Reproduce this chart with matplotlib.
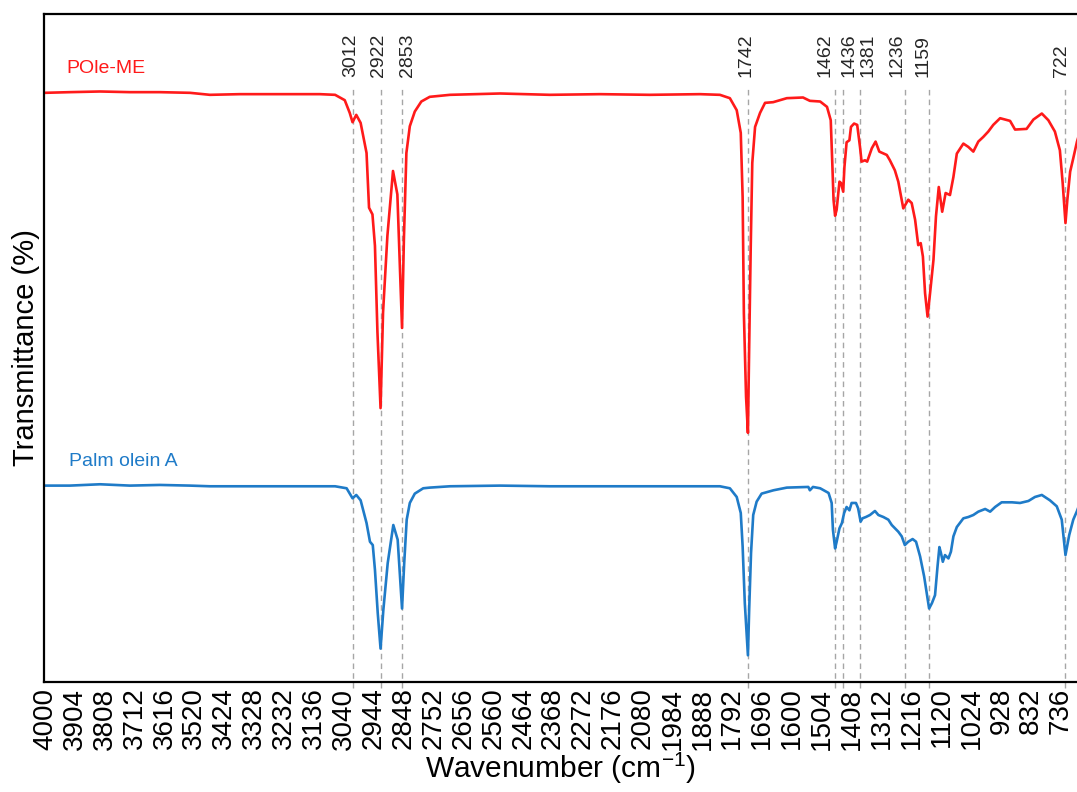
"""FTIR spectra of POle-ME and palm olein A with marked absorption bands."""
import matplotlib
matplotlib.use("Agg")
import matplotlib.pyplot as plt
import numpy as np

plt.rcParams["font.family"] = ["Liberation Sans", "DejaVu Sans"]
plt.rcParams["mathtext.default"] = "regular"

# POle-ME spectrum (wavenumber cm-1, transmittance a.u.)
pole_me_wn = [
    4000, 3920, 3823, 3727, 3631, 3534, 3470, 3374, 3245, 3117, 3068,
    3037, 3021, 3012, 3000, 2986, 2967, 2959, 2948, 2940, 2932, 2922,
    2914, 2900, 2882, 2868, 2853, 2847, 2839, 2828, 2812, 2791, 2764,
    2699, 2538, 2378, 2217, 2057, 1896, 1832, 1800, 1778, 1765, 1759,
    1755, 1748, 1742, 1738, 1733, 1728, 1719, 1703, 1687, 1661, 1617,
    1565, 1543, 1510, 1488, 1476, 1471, 1467, 1462, 1457, 1448, 1443,
    1436, 1432, 1425, 1416, 1411, 1401, 1391, 1382, 1377, 1366, 1359,
    1344, 1332, 1320, 1296, 1286, 1270, 1259, 1243, 1227, 1216, 1205,
    1195, 1187, 1180, 1173, 1165, 1157, 1146, 1138, 1129, 1118, 1107,
    1093, 1082, 1071, 1050, 1034, 1018, 1002, 986, 970, 954, 932,
    900, 884, 847, 825, 798, 777, 756, 740, 731, 722, 716,
    707, 697, 685, 678,
]
pole_me_t = [
    88.2, 88.3, 88.4, 88.3, 88.3, 88.2, 87.9, 88.0, 88.0, 88.0, 87.9,
    87.1, 85.2, 83.8, 84.9, 83.7, 79.2, 71.0, 70.0, 65.3, 52.4, 41.0,
    55.3, 66.8, 76.5, 73.0, 53.0, 66.3, 79.2, 83.2, 85.4, 86.9, 87.6,
    87.9, 88.1, 87.9, 88.0, 87.9, 88.0, 87.9, 87.4, 85.6, 82.2, 72.6,
    55.2, 42.7, 37.3, 50.1, 65.1, 77.7, 83.1, 85.2, 86.7, 86.8, 87.4,
    87.5, 87.0, 86.9, 86.1, 84.1, 77.7, 72.2, 69.8, 70.7, 74.9, 74.7,
    73.4, 77.1, 80.8, 81.1, 83.1, 83.6, 83.4, 80.1, 77.9, 78.1, 77.9,
    79.9, 80.9, 79.4, 78.9, 78.1, 76.6, 74.9, 70.9, 72.2, 71.7, 69.2,
    65.4, 65.7, 63.7, 58.2, 54.7, 58.2, 63.2, 69.7, 74.1, 70.4, 73.2,
    72.9, 75.6, 79.1, 80.6, 80.1, 79.4, 80.9, 81.6, 82.4, 83.4, 84.4,
    84.0, 82.7, 82.8, 84.2, 85.1, 84.1, 82.4, 79.6, 74.7, 68.7, 72.2,
    76.4, 78.4, 80.9, 82.0,
]

# Palm olein A spectrum
palm_olein_wn = [
    4000, 3920, 3823, 3727, 3631, 3534, 3470, 3374, 3245, 3117, 3068,
    3031, 3012, 3000, 2986, 2967, 2956, 2947, 2940, 2931, 2922, 2913,
    2899, 2881, 2867, 2853, 2846, 2838, 2828, 2812, 2785, 2764, 2699,
    2538, 2378, 2217, 2057, 1896, 1832, 1800, 1778, 1765, 1759, 1752,
    1742, 1738, 1732, 1725, 1714, 1698, 1660, 1617, 1548, 1543, 1533,
    1510, 1483, 1473, 1469, 1462, 1457, 1448, 1440, 1433, 1425, 1416,
    1409, 1395, 1388, 1380, 1374, 1363, 1350, 1334, 1323, 1307, 1291,
    1280, 1259, 1248, 1238, 1227, 1213, 1202, 1189, 1176, 1160, 1151,
    1141, 1133, 1127, 1122, 1116, 1109, 1098, 1090, 1082, 1071, 1050,
    1034, 1018, 1002, 980, 964, 948, 927, 894, 868, 841, 820,
    798, 772, 750, 734, 722, 710, 697, 685, 678,
]
palm_olein_t = [
    29.4, 29.4, 29.6, 29.4, 29.5, 29.4, 29.3, 29.3, 29.3, 29.3, 29.3,
    29.0, 27.5, 28.0, 27.2, 23.8, 21.0, 20.5, 16.8, 10.3, 5.0, 10.8,
    17.8, 23.5, 21.3, 11.0, 17.8, 24.3, 26.8, 28.2, 29.0, 29.1, 29.3,
    29.4, 29.3, 29.3, 29.3, 29.3, 29.3, 29.0, 27.7, 25.3, 20.3, 11.8,
    4.0, 10.8, 19.3, 25.0, 27.0, 28.2, 28.7, 29.1, 29.2, 28.7, 29.2,
    29.0, 28.3, 26.8, 22.8, 20.0, 21.0, 23.0, 23.8, 25.3, 26.2, 25.7,
    26.8, 26.8, 26.0, 24.0, 24.5, 24.7, 25.0, 25.6, 25.0, 24.7, 24.3,
    23.5, 22.5, 21.8, 20.5, 21.0, 21.4, 21.0, 18.8, 15.8, 11.0, 11.8,
    13.0, 17.3, 20.2, 19.3, 18.0, 19.0, 18.5, 19.5, 21.8, 23.2, 24.5,
    24.7, 25.0, 25.5, 25.9, 25.5, 26.2, 26.9, 26.9, 26.8, 27.1, 27.7,
    28.0, 27.2, 26.3, 24.3, 19.0, 22.0, 24.3, 25.6, 26.5,
]

band_positions = [3012, 2922, 2853, 1742, 1462, 1436, 1381, 1236, 1159, 722]
tick_positions = list(range(4000, 700, -96))

RED = "#ff1a1a"
BLUE = "#1f7bc8"

fig = plt.figure(figsize=(10.77, 7.92), dpi=100)
ax = fig.add_axes([44 / 1077, 1 - 682 / 792, 1 - 44 / 1077, 668 / 792])

ax.plot(pole_me_wn, pole_me_t, color=RED, lw=1.9, solid_joinstyle="round")
ax.plot(palm_olein_wn, palm_olein_t, color=BLUE, lw=1.9, solid_joinstyle="round")

ax.set_xlim(4003, 685)
ax.set_ylim(0, 100)

# labels were nudged sideways by hand in the original so close ones don't collide
label_nudge = {3012: -2, 2922: -2, 2853: 5, 1742: -2, 1462: -10,
               1436: 6, 1381: 8, 1236: -8, 1159: -6, 722: -4}

# dashed band markers, running a little past the bottom spine
for wn in band_positions:
    ax.plot([wn, wn], [-0.9, 88.9], color="#a6a6a6", lw=1.0,
            ls=(0, (4, 3)), clip_on=False, zorder=1)
    ax.annotate(str(wn), xy=(wn, 90.5), xytext=(label_nudge[wn], 0),
                textcoords="offset pixels", rotation=90, ha="center",
                va="bottom", fontsize=14, color="#262626")

ax.text(3930, 91.9, "POle-ME", color=RED, fontsize=14, va="center")
ax.text(3924, 33.0, "Palm olein A", color=BLUE, fontsize=14, va="center")

ax.set_xticks(tick_positions)
ax.set_xticklabels([str(t) for t in tick_positions], rotation=90, fontsize=20)
ax.tick_params(axis="x", length=0, pad=4)
ax.set_yticks([])

for side in ("left", "top", "bottom"):
    ax.spines[side].set_linewidth(1.6)
ax.spines["right"].set_visible(False)

ax.set_xlabel("Wavenumber (cm$^{-1}$)", fontsize=21.5, labelpad=1)
ax.set_ylabel("Transmittance (%)", fontsize=21, labelpad=3)

fig.savefig("out.png", dpi=100)
